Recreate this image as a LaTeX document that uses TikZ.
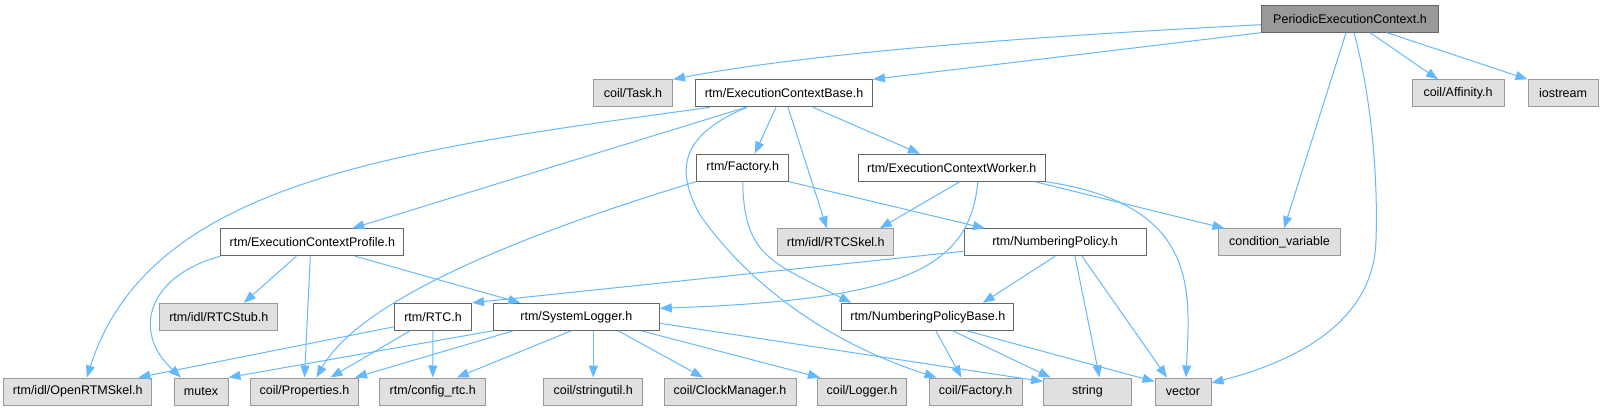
\documentclass[tikz,border=0pt]{standalone}
\usepackage{fontspec}
\setmainfont{Liberation Sans}
\usetikzlibrary{arrows.meta}
\definecolor{edgeblue}{HTML}{63B8FF}
\definecolor{rootfill}{HTML}{999999}
\definecolor{rootline}{HTML}{666666}
\definecolor{extfill}{HTML}{E0E0E0}
\definecolor{extline}{HTML}{999999}

\begin{document}
\begin{tikzpicture}[x=1pt,y=-1pt,
  file/.style={draw=rootline, fill=white, line width=1pt, minimum height=27pt, inner sep=0pt, font=\fontsize{12.5}{14}\selectfont},
  root/.style={file, fill=rootfill},
  ext/.style={file, draw=extline, fill=extfill},
  dep/.style={draw=edgeblue, line width=1pt, -{Triangle[length=12pt,width=9pt]}}]
\useasboundingbox (0,0) rectangle (1621,411);

% Root
\node[root, minimum width=177] (pec) at (1350,18.7) {PeriodicExecutionContext.h};

% Level 1
\node[ext, minimum width=79] (task) at (633,93.3) {coil/Task.h};
\node[file, minimum width=177] (ecb) at (784,93.3) {rtm/ExecutionContextBase.h};
\node[ext, minimum width=92] (affinity) at (1458,93.3) {coil/Affinity.h};
\node[ext, minimum width=70] (iostream) at (1563,93.3) {iostream};

% Level 2
\node[file, minimum width=92] (factory) at (742.7,167.7) {rtm/Factory.h};
\node[file, minimum width=187] (ecw) at (951.8,167.7) {rtm/ExecutionContextWorker.h};

% Level 3
\node[file, minimum width=183] (ecp) at (312.3,242.3) {rtm/ExecutionContextProfile.h};
\node[ext, minimum width=116] (rtcskel) at (835.8,242.3) {rtm/idl/RTCSkel.h};
\node[file, minimum width=182] (npol) at (1055,242.3) {rtm/NumberingPolicy.h};
\node[ext, minimum width=122] (condvar) at (1279.5,242.3) {condition\_variable};

% Level 4
\node[ext, minimum width=118] (rtcstub) at (218.8,316.8) {rtm/idl/RTCStub.h};
\node[file, minimum width=77] (rtc) at (433,316.8) {rtm/RTC.h};
\node[file, minimum width=166] (syslog) at (576.3,316.8) {rtm/SystemLogger.h};
\node[file, minimum width=172] (npb) at (927.8,316.8) {rtm/NumberingPolicyBase.h};

% Leaves
\node[ext, minimum width=148] (openrtm) at (77.8,391.5) {rtm/idl/OpenRTMSkel.h};
\node[ext, minimum width=54] (mutex) at (201,391.5) {mutex};
\node[ext, minimum width=108] (props) at (304.5,391.5) {coil/Properties.h};
\node[ext, minimum width=106] (configrtc) at (432.8,391.5) {rtm/config\_rtc.h};
\node[ext, minimum width=99] (stringutil) at (593.3,391.5) {coil/stringutil.h};
\node[ext, minimum width=132] (clock) at (730,391.5) {coil/ClockManager.h};
\node[ext, minimum width=89] (logger) at (862,391.5) {coil/Logger.h};
\node[ext, minimum width=93] (cfactory) at (975.5,391.5) {coil/Factory.h};
\node[ext, minimum width=88] (string) at (1087.5,391.5) {string};
\node[ext, minimum width=56] (vector) at (1183,391.5) {vector};

% PeriodicExecutionContext.h
\draw[dep] ([yshift=-6]pec.west) .. controls (1000,38) and (800,55) .. (task.north east);
\draw[dep] (pec.south west) -- (ecb.north east);
\draw[dep] ([xshift=-4]pec.south) -- ([xshift=4.5]condvar.north);
\draw[dep] ([xshift=4]pec.south) .. controls (1372,100) and (1378,180) .. (1376,240)
  .. controls (1374,320) and (1300,360) .. ([yshift=8.5]vector.east);
\draw[dep] ([xshift=20]pec.south) -- ([xshift=-20]affinity.north);
\draw[dep] ([xshift=37]pec.south) -- (iostream.north west);

% rtm/ExecutionContextBase.h
\draw[dep] ([xshift=15]ecb.south west) .. controls (400,150) and (150,180) .. ([xshift=9]openrtm.north);
\draw[dep] ([xshift=-38]ecb.south) -- ([xshift=40]ecp.north);
\draw[dep] ([xshift=-37]ecb.south) .. controls (680,135) and (675,170) .. (700,215)
  .. controls (760,300) and (850,350) .. ([xshift=-39]cfactory.north);
\draw[dep] ([xshift=-8]ecb.south) -- ([xshift=12]factory.north);
\draw[dep] ([xshift=4]ecb.south) -- ([xshift=-9]rtcskel.north);
\draw[dep] ([xshift=29]ecb.south) -- ([xshift=-32]ecw.north);

% rtm/Factory.h
\draw[dep] (factory.south west) .. controls (520,235) and (360,300) .. ([xshift=12]props.north);
\draw[dep] (factory.south) .. controls (744,255) and (770,262) .. ([xshift=10]npb.north west);
\draw[dep] (factory.south east) -- ([xshift=-70]npol.north);

% rtm/ExecutionContextWorker.h
\draw[dep] ([xshift=8]ecw.south) -- ([xshift=44]rtcskel.north);
\draw[dep] ([xshift=26]ecw.south) .. controls (970,270) and (900,300) .. ([yshift=8.5]syslog.east);
\draw[dep] ([xshift=83]ecw.south) -- ([xshift=-55]condvar.north);
\draw[dep] (ecw.south east) .. controls (1200,205) and (1190,290) .. ([xshift=3]vector.north);

% rtm/ExecutionContextProfile.h
\draw[dep] (ecp.south west) .. controls (150,275) and (130,330) .. ([xshift=-20]mutex.north);
\draw[dep] ([xshift=-16]ecp.south) -- ([xshift=25]rtcstub.north);
\draw[dep] ([xshift=-2]ecp.south) -- (props.north);
\draw[dep] ([xshift=43]ecp.south) -- ([xshift=-56]syslog.north);

% rtm/NumberingPolicy.h
\draw[dep] ([yshift=-9]npol.west) -- (rtc.north east);
\draw[dep] (npol.south) -- ([xshift=55]npb.north);
\draw[dep] ([xshift=20]npol.south) -- ([xshift=12]string.north);
\draw[dep] ([xshift=27]npol.south) -- ([xshift=-16]vector.north);

% rtm/RTC.h
\draw[dep] ([yshift=4]rtc.south west) -- ([xshift=-14]openrtm.north east);
\draw[dep] ([xshift=-23]rtc.south) -- ([xshift=26]props.north);
\draw[dep] (rtc.south) -- (configrtc.north);

% rtm/SystemLogger.h
\draw[dep] (syslog.south west) -- (mutex.north east);
\draw[dep] ([xshift=-63]syslog.south) -- ([xshift=-4]props.north east);
\draw[dep] ([xshift=-5]syslog.south) -- ([xshift=24]configrtc.north);
\draw[dep] ([xshift=17]syslog.south) -- (stringutil.north);
\draw[dep] ([xshift=42]syslog.south) -- ([xshift=-27]clock.north);
\draw[dep] ([xshift=65]syslog.south) -- ([xshift=-42]logger.north);
\draw[dep] ([yshift=-6.5]syslog.east) -- ([yshift=10]string.west);

% rtm/NumberingPolicyBase.h
\draw[dep] ([xshift=8]npb.south) -- ([xshift=-14]cfactory.north);
\draw[dep] ([xshift=25]npb.south) -- ([xshift=-37]string.north);
\draw[dep] ([xshift=39]npb.south) -- ([yshift=10]vector.west);
\end{tikzpicture}
\end{document}
